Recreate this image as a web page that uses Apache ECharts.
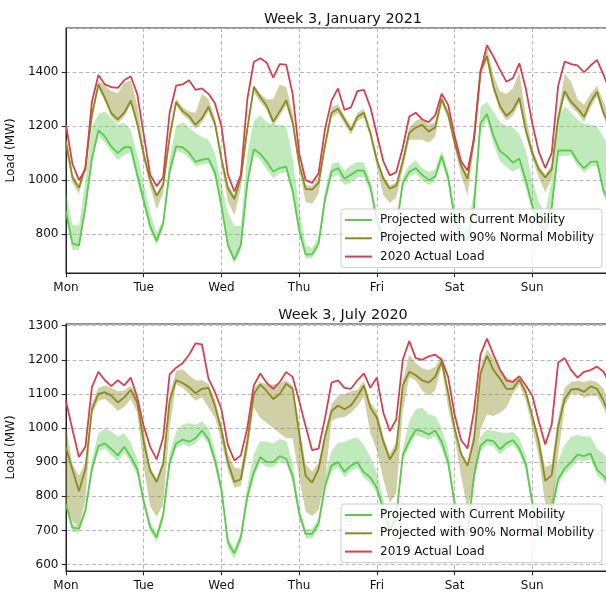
<!DOCTYPE html>
<html><head><meta charset="utf-8">
<script src="https://cdn.jsdelivr.net/npm/echarts@6/dist/echarts.min.js"></script>
<style>html,body{margin:0;padding:0;background:#fff}#c{width:606px;height:592px}</style>
</head><body><div id="c"></div>
<script>
// ---- data (MW), sampled every 2 hours, Mon 00:00 .. next Mon 00:00 ----
const dayLabels = ['Mon','Tue','Wed','Thu','Fri','Sat','Sun'];
const hours = [0,2,4,6,8,10,12,14,16,18,20,22,24,26,28,30,32,34,36,38,40,42,44,46,48,50,52,54,56,58,60,62,64,66,68,70,72,74,76,78,80,82,84,86,88,90,92,94,96,98,100,102,104,106,108,110,112,114,116,118,120,122,124,126,128,130,132,134,136,138,140,142,144,146,148,150,152,154,156,158,160,162,164,166,168];

const topTitle = 'Week 3, January 2021';
const topActualName = '2020 Actual Load';
const topActual = [1205,1060,1000,1040,1290,1390,1355,1345,1342,1370,1385,1320,
 1170,1020,978,1010,1250,1350,1355,1370,1335,1340,1320,1285,
 1200,1020,958,1020,1300,1438,1452,1435,1380,1430,1428,1320,
 1100,1000,990,1025,1190,1295,1340,1260,1270,1330,1335,1270,
 1170,1070,1018,1030,1120,1235,1250,1225,1215,1240,1320,1280,
 1165,1070,1036,1150,1400,1500,1458,1410,1365,1378,1433,1340,
 1210,1106,1045,1100,1350,1440,1430,1425,1400,1425,1446,1390,
 1330];
const topNormal = [1143,1010,972,1050,1240,1355,1305,1248,1225,1250,1295,1210,
 1095,1000,942,983,1160,1290,1256,1238,1205,1230,1272,1210,
 1080,970,930,1010,1190,1345,1308,1275,1217,1255,1296,1215,
 1060,968,965,990,1130,1250,1265,1225,1185,1235,1250,1175,
 1075,1005,968,980,1069,1175,1195,1205,1180,1195,1300,1245,
 1140,1055,1005,1160,1405,1460,1347,1275,1238,1260,1305,1185,
 1100,1040,1010,1040,1230,1330,1290,1265,1235,1290,1328,1250,
 1200];
const topNormalHi = [1160,1025,982,1060,1255,1368,1352,1330,1322,1360,1370,1280,
 1120,1010,952,995,1175,1302,1270,1255,1250,1320,1300,1230,
 1095,985,945,1022,1205,1355,1320,1300,1300,1355,1345,1250,
 1075,982,978,1005,1145,1268,1282,1240,1200,1250,1265,1190,
 1090,1018,980,992,1082,1195,1220,1230,1205,1215,1312,1258,
 1155,1068,1018,1175,1420,1490,1390,1330,1320,1340,1400,1240,
 1120,1055,1022,1055,1250,1395,1365,1300,1280,1320,1350,1290,
 1240];
const topNormalLo = [1110,990,948,1035,1225,1340,1292,1235,1210,1235,1280,1195,
 1075,975,892,950,1140,1275,1242,1222,1190,1215,1255,1195,
 1055,920,870,970,1170,1325,1290,1258,1200,1238,1278,1198,
 1040,920,912,950,1110,1232,1248,1208,1168,1218,1232,1158,
 1050,945,915,935,1040,1150,1150,1150,1140,1160,1285,1228,
 1120,1020,942,1120,1385,1440,1330,1258,1220,1240,1285,1168,
 1080,1010,955,1005,1210,1312,1272,1248,1215,1270,1310,1232,
 1180];
const topCurrent = [884,765,758,900,1080,1185,1162,1125,1100,1122,1122,1020,
 925,830,775,840,1032,1125,1122,1102,1068,1076,1080,1030,
 905,760,705,760,990,1115,1098,1068,1032,1045,1050,960,
 815,725,725,765,930,1032,1045,1005,1020,1036,1035,975,
 850,780,770,820,990,1030,1045,1020,1000,1014,1090,1010,
 860,790,780,900,1210,1245,1165,1108,1090,1065,1080,1000,
 905,840,810,900,1110,1110,1110,1070,1045,1068,1070,960,
 920];
const topCurrentHi = [955,835,832,1000,1195,1245,1255,1230,1205,1212,1185,1095,
 990,880,805,855,1080,1200,1215,1195,1175,1160,1150,1100,
 985,880,830,830,1100,1220,1240,1215,1205,1205,1200,1080,
 900,760,748,790,960,1060,1068,1035,1055,1068,1065,1000,
 880,805,795,845,1015,1055,1075,1045,1030,1040,1110,1035,
 900,830,820,960,1270,1290,1255,1215,1200,1195,1170,1110,
 1000,920,880,1000,1230,1275,1250,1225,1210,1205,1200,1160,
 1120];
const topCurrentLo = [868,740,742,880,1062,1165,1140,1105,1075,1092,1102,998,
 905,812,758,822,1012,1108,1102,1082,1052,1058,1062,1008,
 885,745,692,742,970,1095,1075,1040,1008,1025,1030,940,
 798,710,712,750,910,1010,1020,982,990,1010,1012,955,
 832,765,755,803,972,1012,1026,998,982,996,1070,990,
 842,772,764,880,1180,1225,1135,1070,1050,1030,1045,970,
 885,822,792,880,1090,1090,1092,1052,1028,1050,1052,940,
 900];

const botTitle = 'Week 3, July 2020';
const botActualName = '2019 Actual Load';
const botActual = [1079,995,915,945,1120,1165,1140,1123,1140,1125,1148,1090,
 1005,945,908,972,1157,1177,1190,1215,1248,1245,1145,1105,
 1055,950,905,920,1000,1125,1160,1132,1115,1135,1164,1150,
 1080,1005,935,940,1030,1133,1140,1118,1115,1140,1160,1118,
 1148,1045,991,1025,1200,1255,1205,1200,1210,1215,1200,1150,
 1040,965,940,1050,1215,1262,1215,1172,1140,1135,1152,1125,
 1095,1020,952,1010,1192,1205,1170,1148,1165,1170,1180,1165,
 1130];
const botNormal = [942,878,815,880,1055,1100,1105,1095,1075,1090,1112,1075,
 960,875,842,895,1080,1140,1132,1120,1102,1115,1118,1065,
 995,900,842,850,960,1100,1128,1108,1085,1100,1130,1115,
 985,860,840,880,975,1050,1066,1055,1066,1094,1125,1060,
 1030,960,908,940,1125,1165,1155,1140,1133,1150,1195,1105,
 1000,925,890,965,1160,1212,1170,1145,1115,1115,1142,1105,
 1035,960,845,862,1005,1085,1113,1115,1106,1122,1115,1080,
 1030];
const botNormalHi = [1005,895,860,900,1070,1118,1125,1118,1108,1110,1125,1095,
 995,885,852,905,1100,1168,1172,1155,1140,1140,1130,1085,
 1010,925,885,880,975,1118,1135,1128,1128,1132,1140,1125,
 1010,895,872,900,990,1070,1094,1100,1108,1112,1138,1075,
 1050,975,925,960,1140,1215,1190,1175,1170,1180,1210,1115,
 1005,930,895,995,1180,1232,1205,1172,1150,1140,1150,1115,
 1045,975,885,895,1030,1118,1135,1138,1135,1140,1135,1115,
 1070];
const botNormalLo = [770,725,712,790,1040,1080,1085,1070,1050,1062,1085,1045,
 885,770,740,775,1000,1128,1118,1100,1080,1090,1060,1030,
 960,875,825,830,925,1060,1030,1015,1000,985,970,970,
 855,755,742,760,850,1020,1030,1032,1045,1065,1090,985,
 935,850,780,810,1050,1148,1140,1110,1095,1110,1180,1060,
 975,860,760,835,995,1040,1035,1045,1060,1100,1128,1080,
 1000,915,776,755,920,1065,1100,1100,1089,1095,1095,1060,
 1010];
const botCurrent = [776,708,705,760,880,947,955,938,920,945,915,880,
 785,710,680,745,900,955,966,960,970,993,967,905,
 820,665,633,680,800,870,915,900,900,918,910,860,
 750,690,690,720,830,890,900,872,890,900,870,855,
 825,760,700,740,920,962,995,991,981,993,960,900,
 780,700,690,860,948,965,962,938,955,965,940,895,
 780,700,690,760,850,882,900,922,918,925,878,860,
 830];
const botCurrentHi = [790,718,716,775,905,985,998,990,975,985,958,910,
 800,722,692,760,925,990,1010,1015,1010,1020,1000,935,
 840,680,648,695,830,925,962,960,955,968,962,900,
 770,705,705,735,860,932,958,960,968,972,950,915,
 870,790,720,760,940,1020,1055,1060,1040,1035,1000,940,
 800,718,708,880,975,995,992,988,985,990,970,920,
 800,718,708,790,905,950,975,980,975,975,940,925,
 900];
const botCurrentLo = [764,695,693,748,866,932,940,920,902,928,898,862,
 770,696,666,730,884,940,952,945,955,978,952,888,
 800,648,618,664,782,855,900,885,885,902,895,843,
 735,676,676,705,814,875,884,856,874,884,854,838,
 808,745,686,725,905,946,978,974,966,977,940,885,
 764,686,676,844,932,950,946,922,940,950,924,878,
 764,686,676,744,834,866,884,906,902,908,862,844,
 814];

const curName = 'Projected with Current Mobility';
const normName = 'Projected with 90% Normal Mobility';

// ---- styles ----
const FONT = 'DejaVu Sans';
const C_GREEN = '#5cc94f', C_OLIVE = '#8a8a23', C_RED = '#d8404f';
const F_GREEN = 'rgba(92,201,79,0.38)', F_OLIVE = 'rgba(138,138,35,0.40)';

function pts(a){ return hours.map((h,i)=>[h,a[i]]); }
function band(k,id,lo,hi,fill){
  return {name:id+'-band'+k, type:'custom', xAxisIndex:k, yAxisIndex:k, silent:true, z:1,
    data:hours.map((h,i)=>[h,lo[i],hi[i]]), encode:{x:0, y:[1,2]},
    renderItem:function(params, api){
      if (params.dataIndex !== 0) return null;
      const up = hours.map((h,i)=>api.coord([h, hi[i]]));
      const dn = hours.map((h,i)=>api.coord([h, lo[i]])).reverse();
      return {type:'polygon', shape:{points:up.concat(dn)}, style:{fill:fill, stroke:null}};
    }, animation:false};
}
function line(k,name,data,color,z){
  return {name, type:'line', xAxisIndex:k, yAxisIndex:k, data:pts(data), symbol:'none',
    lineStyle:{color, width:1.8}, itemStyle:{color}, z, animation:false};
}
function xAx(k){
  return {type:'value', gridIndex:k, min:0, max:168, interval:24,
    axisLine:{show:true, lineStyle:{color:'#222', width:1}},
    axisTick:{show:true, length:4.3, lineStyle:{color:'#222'}},
    axisLabel:{formatter:v=> v<168 ? dayLabels[Math.round(v/24)] : '', color:'#111', fontSize:12, fontFamily:FONT, margin:8.5},
    splitLine:{show:true, lineStyle:{color:'#b8b8b8', type:[4,2.5], width:1}}};
}
function yAx(k,min,max,step){
  return {type:'value', gridIndex:k, min, max, minInterval:step, maxInterval:step, splitNumber:5,
    name:'Load (MW)', nameLocation:'middle', nameGap:37,
    nameTextStyle:{color:'#111', fontSize:12, fontFamily:FONT},
    axisLine:{show:true, lineStyle:{color:'#222', width:1}},
    axisTick:{show:true, length:4.3, lineStyle:{color:'#222'}},
    axisLabel:{showMinLabel:false, showMaxLabel:false, formatter:v=>String(v), color:'#111', fontSize:12, fontFamily:FONT, margin:7.5},
    splitLine:{show:true, lineStyle:{color:'#b8b8b8', type:[4,2.5], width:1}}};
}
function legend(top, names){
  return {data:names, orient:'vertical', left:341, top, icon:'rect', itemWidth:27, itemHeight:2, itemGap:4.3,
    padding:[4,8,4,4], backgroundColor:'rgba(255,255,255,0.8)', borderColor:'#cccccc', borderWidth:1, borderRadius:3,
    textStyle:{color:'#111', fontSize:12, fontFamily:FONT, lineHeight:14, padding:[0,0,0,3]}, selectedMode:false};
}

const chart = echarts.init(document.getElementById('c'), null, {renderer:'canvas'});
chart.setOption({
  animation:false,
  backgroundColor:'#ffffff',
  title:[
    {text:topTitle, left:338, top:7, textAlign:'center', textStyle:{fontFamily:FONT, fontSize:14.4, fontWeight:'normal', color:'#111'}},
    {text:botTitle, left:338, top:303, textAlign:'center', textStyle:{fontFamily:FONT, fontSize:14.4, fontWeight:'normal', color:'#111'}}
  ],
  grid:[
    {left:66, top:28, width:544, height:245, show:true, borderColor:'#222', borderWidth:1, backgroundColor:'transparent', containLabel:false, outerBoundsMode:'none'},
    {left:66, top:324, width:544, height:247, show:true, borderColor:'#222', borderWidth:1, backgroundColor:'transparent', containLabel:false, outerBoundsMode:'none'}
  ],
  xAxis:[xAx(0), xAx(1)],
  yAxis:[yAx(0,656,1564,200), yAx(1,581,1305,100)],
  legend:[legend(209,[curName,normName,topActualName]), legend(504,[curName,normName,botActualName])],
  series:[
    band(0,'cur',topCurrentLo,topCurrentHi,F_GREEN),
    band(0,'norm',topNormalLo,topNormalHi,F_OLIVE),
    line(0,curName,topCurrent,C_GREEN,3), line(0,normName,topNormal,C_OLIVE,4), line(0,topActualName,topActual,C_RED,5),
    band(1,'cur',botCurrentLo,botCurrentHi,F_GREEN),
    band(1,'norm',botNormalLo,botNormalHi,F_OLIVE),
    line(1,curName,botCurrent,C_GREEN,3), line(1,normName,botNormal,C_OLIVE,4), line(1,botActualName,botActual,C_RED,5)
  ]
});
</script></body></html>
